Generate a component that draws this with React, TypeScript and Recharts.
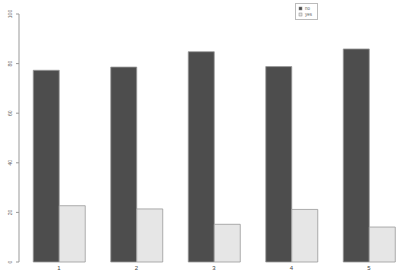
import React from "react";
import { BarChart, Bar, XAxis, YAxis } from "recharts";

const groups = [1, 2, 3, 4, 5];
const noValues = [77.3, 78.6, 84.8, 78.8, 85.9];
const yesValues = [22.7, 21.4, 15.2, 21.2, 14.1];
const yTicks = [0, 20, 40, 60, 80, 100];
const legendLabels = ["no", "yes"];
const legendColors = ["#4d4d4d", "#e6e6e6"];

const data = groups.map((g, i) => ({ g, no: noValues[i], yes: yesValues[i] }));

const YTick = (props: any) => {
  const { y, payload } = props;
  return (
    <text
      x={10}
      y={y}
      transform={`rotate(-90 10 ${y})`}
      textAnchor="middle"
      dominantBaseline="central"
      fontSize={5}
      fill="#666"
      fontFamily="Liberation Sans, Arial, sans-serif"
    >
      {payload.value}
    </text>
  );
};

const XTick = (props: any) => {
  const { x, payload } = props;
  return (
    <text
      x={x}
      y={270}
      textAnchor="middle"
      fontSize={6}
      fill="#444"
      fontFamily="Liberation Sans, Arial, sans-serif"
    >
      {payload.value}
    </text>
  );
};

const LegendBox = () => (
  <svg width={23} height={17} style={{ position: "absolute", left: 295, top: 3, display: "block" }}>
    <rect x={0.5} y={0.5} width={22} height={16} fill="#fff" stroke="#bbb" strokeWidth={1} />
    {legendLabels.map((l, i) => (
      <g key={l}>
        <rect x={4} y={4 + i * 6} width={3} height={3} fill={legendColors[i]} stroke="#888" strokeWidth={0.5} />
        <text x={10} y={7 + i * 6} fontSize={4.5} fill="#666" fontFamily="Liberation Sans, Arial, sans-serif">
          {l}
        </text>
      </g>
    ))}
  </svg>
);

export default function App() {
  return (
    <div style={{ position: "absolute", left: 0, top: 0, width: 396, height: 273, background: "#fff" }}>
      <BarChart
        width={396}
        height={273}
        data={data}
        margin={{ top: 14, right: 0, bottom: 0, left: 0 }}
        barGap={0}
        barSize={26}
      >
        <XAxis
          dataKey="g"
          type="number"
          domain={[0.484, 5.348]}
          ticks={groups}
          axisLine={false}
          tickLine={false}
          height={11}
          tick={<XTick />}
          interval={0}
        />
        <YAxis
          type="number"
          domain={[0, 100]}
          ticks={yTicks}
          width={19}
          tickSize={3}
          axisLine={{ stroke: "#999", strokeWidth: 1 }}
          tickLine={{ stroke: "#999", strokeWidth: 1 }}
          tick={<YTick />}
          interval={0}
        />
        <Bar dataKey="no" fill="#4d4d4d" stroke="#999" strokeWidth={0.8} isAnimationActive={false} />
        <Bar dataKey="yes" fill="#e6e6e6" stroke="#999" strokeWidth={0.8} isAnimationActive={false} />
      </BarChart>
      <LegendBox />
    </div>
  );
}
